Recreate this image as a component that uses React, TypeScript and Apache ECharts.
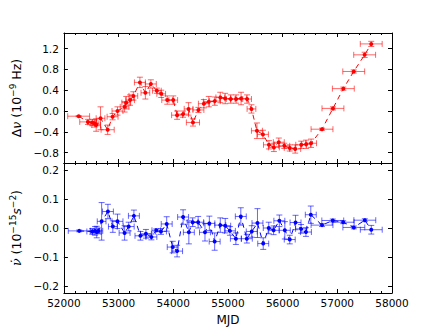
import React, { useEffect, useRef } from "react";
import * as echarts from "echarts";

const xTicks = [52000, 53000, 54000, 55000, 56000, 57000, 58000];
const topTicks = [-0.8, -0.4, 0.0, 0.4, 0.8, 1.2];
const botTicks = [-0.2, -0.1, 0.0, 0.1, 0.2];

const topMjd = [52270, 52440, 52520, 52560, 52590, 52670, 52800, 52890, 52980, 53110, 53140, 53210, 53270, 53390, 53490, 53590, 53700, 53780, 53890, 54000, 54070, 54180, 54280, 54360, 54460, 54560, 54650, 54760, 54860, 54950, 55050, 55150, 55240, 55350, 55430, 55530, 55640, 55750, 55840, 55930, 56030, 56130, 56230, 56340, 56430, 56520, 56720, 56920, 57110, 57300, 57500, 57620];
const topVal = [-0.10, -0.21, -0.22, -0.24, -0.27, -0.14, -0.36, -0.11, 0.00, 0.08, 0.16, 0.21, 0.29, 0.55, 0.35, 0.52, 0.39, 0.33, 0.21, 0.21, -0.08, -0.06, 0.04, -0.22, 0.02, 0.14, 0.18, 0.19, 0.26, 0.24, 0.23, 0.23, 0.24, 0.23, 0.04, -0.38, -0.45, -0.65, -0.70, -0.60, -0.67, -0.71, -0.73, -0.65, -0.64, -0.62, -0.35, 0.05, 0.43, 0.76, 1.08, 1.29];
const topXerr = [200, 150, 80, 80, 80, 80, 120, 100, 100, 80, 80, 80, 80, 100, 80, 100, 80, 80, 100, 80, 100, 100, 80, 120, 100, 100, 100, 100, 80, 100, 80, 100, 100, 80, 80, 100, 100, 100, 100, 100, 100, 100, 100, 100, 80, 100, 200, 200, 200, 200, 200, 200];
const topYerr = [0.01, 0.05, 0.06, 0.07, 0.12, 0.22, 0.09, 0.06, 0.08, 0.10, 0.12, 0.10, 0.08, 0.10, 0.12, 0.08, 0.05, 0.07, 0.08, 0.08, 0.08, 0.06, 0.12, 0.07, 0.05, 0.08, 0.10, 0.08, 0.10, 0.10, 0.08, 0.08, 0.12, 0.08, 0.08, 0.15, 0.08, 0.08, 0.08, 0.08, 0.05, 0.06, 0.08, 0.07, 0.08, 0.08, 0.02, 0.03, 0.03, 0.03, 0.05, 0.05];

const botMjd = [52280, 52520, 52570, 52600, 52630, 52690, 52805, 52895, 52980, 53110, 53185, 53280, 53400, 53500, 53600, 53690, 53775, 53880, 53990, 54070, 54180, 54285, 54355, 54455, 54580, 54660, 54757, 54860, 54950, 55036, 55145, 55235, 55345, 55435, 55540, 55645, 55746, 55835, 55940, 56040, 56130, 56236, 56337, 56426, 56515, 56720, 56917, 57107, 57302, 57503, 57621];
const botVal = [-0.010, -0.012, -0.010, -0.014, -0.010, 0.023, 0.057, 0.005, 0.023, -0.017, 0.005, 0.042, -0.027, -0.020, -0.031, -0.008, -0.012, 0.014, -0.066, -0.080, 0.038, -0.015, 0.020, 0.020, -0.015, 0.016, -0.047, 0.010, 0.008, -0.010, -0.037, 0.040, -0.037, -0.012, 0.017, -0.054, 0.000, -0.008, 0.025, -0.008, -0.040, 0.019, -0.003, -0.014, 0.046, 0.010, 0.026, 0.020, 0.002, 0.027, -0.006];
const botXerr = [200, 100, 80, 80, 80, 80, 100, 80, 100, 100, 100, 100, 100, 100, 100, 80, 100, 100, 100, 100, 100, 100, 100, 100, 100, 100, 100, 100, 100, 100, 100, 100, 100, 100, 100, 100, 100, 100, 100, 100, 100, 100, 100, 100, 100, 200, 200, 200, 200, 200, 200];
const botYerr = [0.003, 0.01, 0.015, 0.02, 0.01, 0.065, 0.025, 0.02, 0.025, 0.025, 0.015, 0.02, 0.015, 0.015, 0.01, 0.005, 0.01, 0.025, 0.02, 0.02, 0.025, 0.04, 0.015, 0.02, 0.03, 0.025, 0.03, 0.025, 0.025, 0.015, 0.02, 0.03, 0.015, 0.02, 0.05, 0.02, 0.02, 0.015, 0.02, 0.03, 0.015, 0.025, 0.015, 0.015, 0.03, 0.005, 0.005, 0.005, 0.005, 0.005, 0.015];

const FONT = "DejaVu Sans";

function fmt(v: number) {
  return v.toFixed(1).replace("-", "\u2212");
}

function errRender(color: string) {
  return (params: any, api: any) => {
    const x = api.value(0), y = api.value(1), xe = api.value(2), ye = api.value(3);
    const l = api.coord([x - xe, y]);
    const r = api.coord([x + xe, y]);
    const t = api.coord([x, y + ye]);
    const b = api.coord([x, y - ye]);
    const cap = 3;
    const st = { stroke: color, lineWidth: 1 };
    const ln = (x1: number, y1: number, x2: number, y2: number) => ({
      type: "line",
      shape: { x1, y1, x2, y2 },
      style: st,
    });
    return {
      type: "group",
      children: [
        ln(l[0], l[1], r[0], r[1]),
        ln(t[0], t[1], b[0], b[1]),
        ln(l[0], l[1] - cap, l[0], l[1] + cap),
        ln(r[0], r[1] - cap, r[0], r[1] + cap),
        ln(t[0] - cap, t[1], t[0] + cap, t[1]),
        ln(b[0] - cap, b[1], b[0] + cap, b[1]),
      ],
    };
  };
}

function xAx(grid: number, pos: string, labels: boolean, name?: string) {
  return {
    type: "value",
    gridIndex: grid,
    position: pos,
    min: xTicks[0],
    max: xTicks[xTicks.length - 1],
    interval: 1000,
    name: name || "",
    nameLocation: "middle",
    nameGap: 21,
    nameTextStyle: { fontFamily: FONT, fontSize: 12, color: "#000" },
    axisLine: { show: true, onZero: false, lineStyle: { color: "#000", width: 1 } },
    axisTick: { show: true, inside: true, length: 4, lineStyle: { color: "#000" } },
    minorTick: { show: true, splitNumber: 5, length: 2, lineStyle: { color: "#000" } },
    splitLine: { show: false },
    axisLabel: {
      show: labels,
      fontFamily: FONT,
      fontSize: 10.5,
      color: "#000",
      margin: 4,
      formatter: (v: number) => String(v),
    },
  };
}

function yAx(grid: number, pos: string, labels: boolean, min: number, max: number, ticks: number[], name?: string, rich?: any) {
  return {
    type: "value",
    gridIndex: grid,
    position: pos,
    min,
    max,
    name: name || "",
    nameLocation: "middle",
    nameGap: 33,
    nameRotate: 90,
    nameTextStyle: { fontFamily: FONT, fontSize: 12.5, color: "#000", rich },
    axisLine: { show: true, onZero: false, lineStyle: { color: "#000", width: 1 } },
    axisTick: { show: true, inside: true, length: 4, customValues: ticks, lineStyle: { color: "#000" } },
    splitLine: { show: false },
    axisLabel: {
      show: labels,
      customValues: ticks,
      fontFamily: FONT,
      fontSize: 10.5,
      color: "#000",
      margin: 5,
      formatter: (v: number) => fmt(v),
    },
  };
}

export default function App() {
  const ref = useRef<HTMLDivElement>(null);
  useEffect(() => {
    if (!ref.current) return;
    const chart = echarts.init(ref.current, null, { renderer: "svg" });
    const rich = {
      it: { fontFamily: FONT, fontSize: 12.5, fontStyle: "italic", color: "#000" },
      dot: { fontFamily: "DejaVu Serif", fontSize: 12.5, fontStyle: "italic", color: "#000" },
      sup: { fontFamily: FONT, fontSize: 9, color: "#000", verticalAlign: "top", padding: [0, 0, 7, 0] },
      n: { fontFamily: FONT, fontSize: 12.5, color: "#000" },
    };
    chart.setOption({
      animation: false,
      backgroundColor: "#fff",
      grid: [
        { left: 54, top: 33, width: 338, height: 130 },
        { left: 54, top: 163, width: 338, height: 131 },
      ],
      xAxis: [
        xAx(0, "bottom", false),
        xAx(0, "top", false),
        xAx(1, "bottom", true, "MJD"),
        xAx(1, "top", false),
      ],
      yAxis: [
        yAx(0, "left", true, -1.0, 1.5, topTicks, "{n|\u0394}{it|\u03bd}{n| (10}{sup|\u22129}{n| Hz)}", rich),
        yAx(0, "right", false, -1.0, 1.5, topTicks),
        yAx(1, "left", true, -0.225, 0.225, botTicks, "{dot|\u03bd\u0307}{n| (10}{sup|\u221215}{it|s}{sup|\u22122}{n|)}", rich),
        yAx(1, "right", false, -0.225, 0.225, botTicks),
      ],
      series: [
        {
          type: "custom",
          xAxisIndex: 0,
          yAxisIndex: 0,
          renderItem: errRender("rgba(255,0,0,0.6)"),
          encode: { x: 0, y: 1 },
          data: topMjd.map((m, i) => [m, topVal[i], topXerr[i], topYerr[i]]),
          z: 2,
        },
        {
          type: "line",
          xAxisIndex: 0,
          yAxisIndex: 0,
          data: topMjd.map((m, i) => [m, topVal[i]]),
          symbol: "circle",
          symbolSize: 4,
          itemStyle: { color: "#ff0000" },
          lineStyle: { color: "#ff0000", width: 1, type: [5, 4] },
          z: 3,
        },
        {
          type: "custom",
          xAxisIndex: 2,
          yAxisIndex: 2,
          renderItem: errRender("rgba(0,0,255,0.6)"),
          encode: { x: 0, y: 1 },
          data: botMjd.map((m, i) => [m, botVal[i], botXerr[i], botYerr[i]]),
          z: 2,
        },
        {
          type: "line",
          xAxisIndex: 2,
          yAxisIndex: 2,
          data: botMjd.map((m, i) => [m, botVal[i]]),
          symbol: "circle",
          symbolSize: 4,
          itemStyle: { color: "#0000ff" },
          lineStyle: { color: "#0000ff", width: 1, type: [5, 4] },
          z: 3,
        },
      ],
    });
    return () => chart.dispose();
  }, []);
  return (
    <div
      ref={ref}
      style={{ position: "fixed", left: 0, top: 0, width: 436, height: 327 }}
    />
  );
}
